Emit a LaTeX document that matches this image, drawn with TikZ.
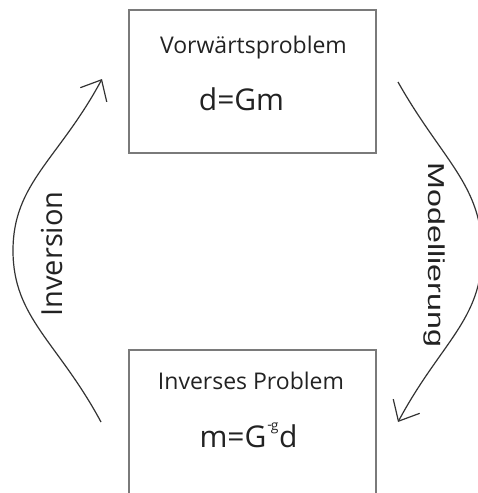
\documentclass[tikz,border=0pt]{standalone}
\usepackage{fontspec}
\setmainfont{Open Sans}
\newfontfamily\arialfont{Liberation Sans}
\usetikzlibrary{arrows.meta}
\definecolor{boxgray}{HTML}{7A7A7A}
\definecolor{linegray}{HTML}{333333}
\definecolor{txt}{HTML}{222222}
\tikzset{
  probbox/.style={draw=boxgray, line width=1.6pt, rectangle, inner sep=0pt},
  titletext/.style={anchor=base, font=\fontsize{23}{26}\selectfont, text=txt},
  formtext/.style={anchor=base, font=\fontsize{30}{33}\selectfont, text=txt},
  cyclearrow/.style={draw=linegray, line width=1.2pt, -{Straight Barb[length=17pt,width=30pt,line width=1.2pt]}},
}
\begin{document}
\begin{tikzpicture}[x=1pt,y=-1pt]
\useasboundingbox (0,0) rectangle (478,493);
\clip (0,0) rectangle (478,493);
% boxes
\node[probbox, minimum width=247pt, minimum height=143pt] (top) at (252.5,81.5) {};
\node[probbox, minimum width=247pt, minimum height=180pt] (bot) at (252.5,440) {};
% texts
\node[titletext] (ttop) at (253.5,53) {Vorwärtsproblem};
\node[formtext] (ftop) at (241.5,110) {d=Gm};
\node[titletext] (tbot) at (251,389) {Inverses Problem};
\node[formtext] (fbot) at (248.5,447) {m=G\kern1pt\raisebox{0.55em}{\fontsize{14}{14}\selectfont \raisebox{0.1em}{-}\kern-1pt g}\kern0.5pt d};
% arrow end points
\coordinate (ls) at (101,422);
\coordinate (lm) at (13,250.5);
\coordinate (le) at (102,79);
\coordinate (rs) at (398,82);
\coordinate (rm) at (482,252);
\coordinate (re) at (398,422);
\draw[cyclearrow] (ls) .. controls (58,342) and (13,318) .. (lm) .. controls (13,183) and (59,159) .. (le);
\draw[cyclearrow] (rs) .. controls (442,160) and (482,185) .. (rm) .. controls (482,320) and (441,342) .. (re);
% arrow labels
\node[anchor=base, rotate=90, font=\fontsize{29}{32}\selectfont, text=txt] (linv) at (62,254) {Inversion};
\node[anchor=base, rotate=-90, font=\arialfont\fontsize{23}{26}\selectfont, text=txt] (lmod) at (428,255) {\scalebox{1.4}[1]{Modellierung}};
\end{tikzpicture}
\end{document}
